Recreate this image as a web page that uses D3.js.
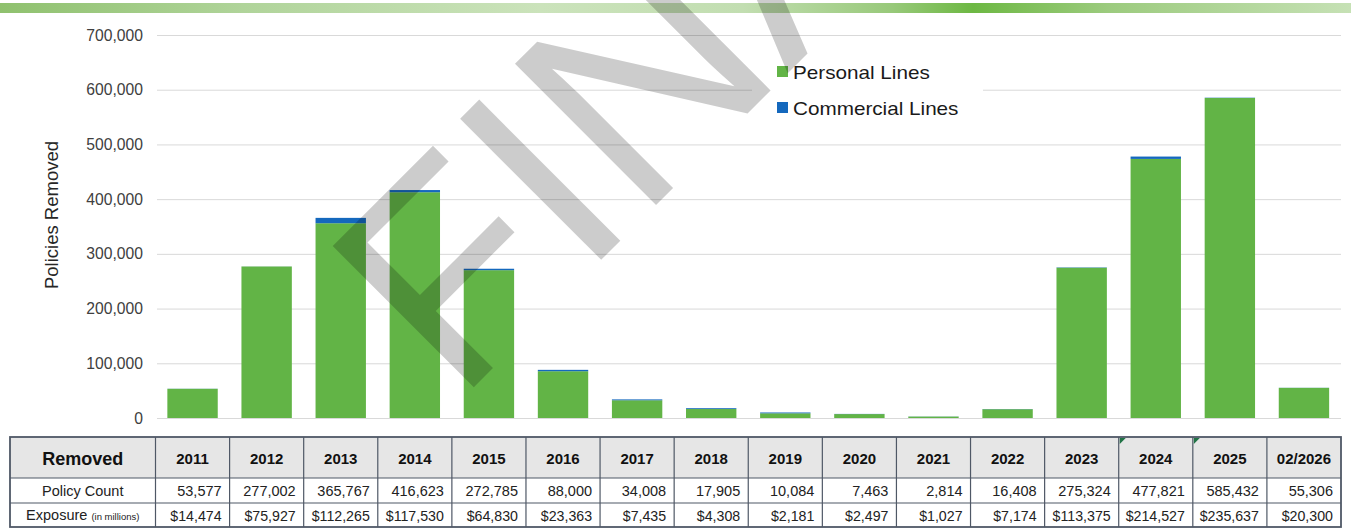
<!DOCTYPE html>
<html>
<head>
<meta charset="utf-8">
<script src="https://cdn.jsdelivr.net/npm/d3@7"></script>
<style>
  html, body { margin: 0; padding: 0; background: #fff; }
  svg { display: block; font-family: "Liberation Sans", Arial, sans-serif; }
</style>
</head>
<body>
<svg id="chart" width="1351" height="529"></svg>
<script>
// Policies removed per year, split by line of business
const categories = ["2011","2012","2013","2014","2015","2016","2017","2018","2019","2020","2021","2022","2023","2024","2025","02/2026"];
const personalLines   = [53377, 276902, 355967, 412623, 270185, 85500, 32408, 16405, 8584, 7163, 2614, 16108, 274724, 473521, 584932, 55106];
const commercialLines = [200, 100, 9800, 4000, 2600, 2500, 1600, 1500, 1500, 300, 200, 300, 600, 4300, 500, 200];
const policyCount = [53577, 277002, 365767, 416623, 272785, 88000, 34008, 17905, 10084, 7463, 2814, 16408, 275324, 477821, 585432, 55306];
const exposure    = [14474, 75927, 112265, 117530, 64830, 23363, 7435, 4308, 2181, 2497, 1027, 7174, 113375, 214527, 235637, 20300];
const yTicks = [0, 100000, 200000, 300000, 400000, 500000, 600000, 700000];
const seriesNames = ["Personal Lines", "Commercial Lines"];
const seriesColors = ["#62b446", "#1468bd"];
// header cells carrying a comment marker
const flaggedHeaders = ["2024", "2025"];

const svg = d3.select("#chart");
const W = 1351;

// decorative gradient band along the top
const defs = svg.append("defs");
const grad = defs.append("linearGradient").attr("id", "topband").attr("x1", "0").attr("x2", "1").attr("y1", "0").attr("y2", "0");
[[0, "#8fc16e"], [0.18, "#b0d49a"], [0.4, "#cbe3bb"], [0.55, "#c2deb1"], [0.66, "#98c97a"], [0.72, "#6db843"], [0.82, "#9ccb7e"], [1, "#c6e1b5"]]
  .forEach(([o, c]) => grad.append("stop").attr("offset", o).attr("stop-color", c));
svg.append("rect").attr("x", 0).attr("y", 3).attr("width", W).attr("height", 10).attr("fill", "url(#topband)");

// scales
const x = d3.scaleBand().domain(categories).range([155.5, 1341]).paddingInner(0.32).paddingOuter(0.16);
const y = d3.scaleLinear().domain([0, 700000]).range([418, 35]);

// gridlines + tick labels
const yAxis = d3.axisLeft(y).tickValues(yTicks).tickFormat(d3.format(",")).tickSize(-(1341 - 157)).tickPadding(14);
const gAxis = svg.append("g").attr("transform", "translate(157,0)").call(yAxis);
gAxis.select(".domain").remove();
gAxis.selectAll(".tick line").attr("stroke", "#d9d9d9").attr("stroke-width", 1);
gAxis.selectAll(".tick text").attr("fill", "#404040").attr("font-size", 15.7).attr("font-family", "Liberation Sans, Arial, sans-serif");

// stacked bars
const rows = categories.map((c, i) => ({ cat: c, personal: personalLines[i], commercial: commercialLines[i] }));
const stack = d3.stack().keys(["personal", "commercial"]);
const layers = stack(rows);
svg.append("g").selectAll("g").data(layers).join("g")
  .attr("fill", (d, i) => seriesColors[i])
  .selectAll("rect").data(d => d).join("rect")
  .attr("x", d => x(d.data.cat))
  .attr("width", x.bandwidth())
  .attr("y", d => y(d[1]))
  .attr("height", d => y(d[0]) - y(d[1]));

// y-axis title
svg.append("text")
  .attr("transform", "translate(58,215) rotate(-90)")
  .attr("text-anchor", "middle")
  .attr("font-size", 18.5)
  .attr("fill", "#262626")
  .text("Policies Removed");

// legend
svg.append("rect").attr("x", 752).attr("y", 50).attr("width", 231).attr("height", 75).attr("fill", "#fff");
const leg = svg.append("g").selectAll("g").data(seriesNames).join("g")
  .attr("transform", (d, i) => `translate(777,${66 + i * 36})`);
leg.append("rect").attr("width", 11).attr("height", 11).attr("fill", (d, i) => seriesColors[i]);
leg.append("text").attr("transform", "translate(16,12.5) scale(1.15,1)")
  .attr("font-size", 18).attr("fill", "#1a1a1a").text(d => d);

// data table under the chart
const tTop = 437, rowB = [478, 503, 527];
const tLeft = 10, firstColR = 155.5, tRight = 1341;
const step = x.step();
const colL = i => firstColR + i * step;
const border = "#4f5866";

const table = svg.append("g");
table.append("rect").attr("x", tLeft).attr("y", tTop).attr("width", tRight - tLeft).attr("height", rowB[0] - tTop).attr("fill", "#e6e6e6");
// horizontal rules
[rowB[0], rowB[1]].forEach(yy => table.append("line").attr("x1", tLeft).attr("x2", tRight).attr("y1", yy).attr("y2", yy).attr("stroke", border).attr("stroke-width", 1.2));
// vertical rules
d3.range(categories.length).forEach(i => {
  const xx = colL(i);
  table.append("line").attr("x1", xx).attr("x2", xx).attr("y1", tTop).attr("y2", rowB[2]).attr("stroke", border).attr("stroke-width", 1.2);
});
// outer frame
table.append("rect").attr("x", tLeft).attr("y", tTop).attr("width", tRight - tLeft).attr("height", rowB[2] - tTop)
  .attr("fill", "none").attr("stroke", border).attr("stroke-width", 1.8);

// comment markers
flaggedHeaders.forEach(h => {
  const xx = colL(categories.indexOf(h)) + 1;
  table.append("path").attr("d", `M${xx},${tTop + 1}h6l-6,6z`).attr("fill", "#217346");
});

// header row
table.append("text").attr("x", (tLeft + firstColR) / 2).attr("y", 465).attr("text-anchor", "middle")
  .attr("font-size", 18).attr("font-weight", "bold").attr("fill", "#111").text("Removed");
table.selectAll(".hdr").data(categories).join("text").attr("class", "hdr")
  .attr("x", (d, i) => colL(i) + step / 2).attr("y", 464).attr("text-anchor", "middle")
  .attr("font-size", 15).attr("font-weight", "bold").attr("fill", "#111").text(d => d);

// row labels
table.append("text").attr("x", (tLeft + firstColR) / 2).attr("y", 496).attr("text-anchor", "middle")
  .attr("font-size", 14.5).attr("fill", "#222").text("Policy Count");
const expLabel = table.append("text").attr("x", (tLeft + firstColR) / 2).attr("y", 520).attr("text-anchor", "middle")
  .attr("font-size", 14.5).attr("fill", "#222");
expLabel.append("tspan").text("Exposure ");
expLabel.append("tspan").attr("font-size", 9.5).text("(in millions)");

// row values
const fmt = d3.format(",");
table.selectAll(".cnt").data(policyCount).join("text").attr("class", "cnt")
  .attr("x", (d, i) => colL(i + 1) - 8).attr("y", 496).attr("text-anchor", "end")
  .attr("font-size", 14.5).attr("fill", "#222").text(d => fmt(d));
table.selectAll(".exp").data(exposure).join("text").attr("class", "exp")
  .attr("x", (d, i) => colL(i + 1) - 8).attr("y", 520.5).attr("text-anchor", "end")
  .attr("font-size", 14.2).attr("fill", "#222").text(d => "$" + fmt(d));

// document status watermark
svg.append("text")
  .attr("transform", "translate(457,404) rotate(-45)")
  .attr("font-size", 290)
  .attr("fill", "#000")
  .attr("fill-opacity", 0.2)
  .text("FINAL");
</script>
</body>
</html>
